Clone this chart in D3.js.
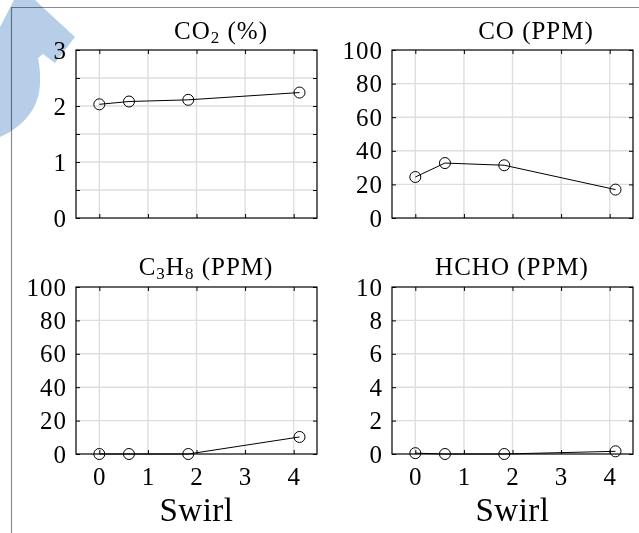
<!DOCTYPE html>
<html><head><meta charset="utf-8">
<script src="https://cdn.jsdelivr.net/npm/d3@7"></script>
<style>body{margin:0;background:#fff}svg{display:block}</style>
</head><body><svg id="c" width="639" height="533"></svg>
<script>
// ---- data ----
const swirl = [0, 0.61, 1.83, 4.12];
const co2 = [2.03, 2.08, 2.11, 2.24];
const co = [24.4, 32.7, 31.4, 16.9];
const c3h8 = [0, 0, 0, 10.2];
const hcho = [0.05, 0, 0, 0.16];
const xTicks = [0, 1, 2, 3, 4];
const co2Ticks = [0, 0.5, 1, 1.5, 2, 2.5, 3];
const co2Labels = [0, 1, 2, 3];
const ppmTicks = [0, 20, 40, 60, 80, 100];
const hchoTicks = [0, 2, 4, 6, 8, 10];
const xLabel = "Swirl";

// ---- layout ----
const svg = d3.select("#c");
svg.append("rect").attr("width", 639).attr("height", 533).attr("fill", "#fff");
const font = "'Liberation Serif','Times New Roman',serif";

const panels = [
  {x0: 76, y0: 50, w: 241, h: 168, vals: co2, ymax: 3, ticks: co2Ticks, labels: co2Labels,
   title: [["CO", 0], ["2", 1], [" (%)", 0]], tx: 221, ty: 39, showX: false},
  {x0: 392, y0: 50, w: 241, h: 168, vals: co, ymax: 100, ticks: ppmTicks, labels: ppmTicks,
   title: [["CO (PPM)", 0]], tx: 536, ty: 39, showX: false},
  {x0: 76, y0: 287, w: 241, h: 167, vals: c3h8, ymax: 100, ticks: ppmTicks, labels: ppmTicks,
   title: [["C", 0], ["3", 1], ["H", 0], ["8", 1], [" (PPM)", 0]], tx: 206, ty: 275, showX: true},
  {x0: 392, y0: 287, w: 241, h: 167, vals: hcho, ymax: 10, ticks: hchoTicks, labels: hchoTicks,
   title: [["HCHO (PPM)", 0]], tx: 512, ty: 275, showX: true}
];

// frame lines of the page
svg.append("line").attr("x1", 11).attr("x2", 639).attr("y1", 7.5).attr("y2", 7.5)
  .attr("stroke", "#8c8c8c").attr("stroke-width", 1.2);
svg.append("line").attr("x1", 11.5).attr("x2", 11.5).attr("y1", 7).attr("y2", 533)
  .attr("stroke", "#8c8c8c").attr("stroke-width", 1.2);

panels.forEach(p => {
  const x = d3.scaleLinear().domain([-0.48, 4.48]).range([p.x0, p.x0 + p.w]);
  const y = d3.scaleLinear().domain([0, p.ymax]).range([p.y0 + p.h, p.y0]);
  const g = svg.append("g");

  // grid
  g.selectAll(".vg").data(xTicks).join("line")
    .attr("x1", d => x(d)).attr("x2", d => x(d)).attr("y1", p.y0).attr("y2", p.y0 + p.h)
    .attr("stroke", "#dedede").attr("stroke-width", 1.4);
  g.selectAll(".hg").data(p.ticks.filter(t => t > 0 && t < p.ymax)).join("line")
    .attr("x1", p.x0).attr("x2", p.x0 + p.w).attr("y1", d => y(d)).attr("y2", d => y(d))
    .attr("stroke", "#dedede").attr("stroke-width", 1.4);

  // axes (inward ticks on all sides)
  const ax = (axis, tx, ty) => g.append("g").attr("transform", `translate(${tx},${ty})`).call(axis)
    .call(s => { s.select(".domain").remove(); s.selectAll("text").remove();
                 s.selectAll(".tick line").attr("stroke", "#000").attr("stroke-width", 1); });
  ax(d3.axisBottom(x).tickValues(xTicks).tickSize(-4), 0, p.y0 + p.h);
  ax(d3.axisTop(x).tickValues(xTicks).tickSize(-4), 0, p.y0);
  ax(d3.axisLeft(y).tickValues(p.ticks).tickSize(-4), p.x0, 0);
  ax(d3.axisRight(y).tickValues(p.ticks).tickSize(-4), p.x0 + p.w, 0);

  g.append("rect").attr("x", p.x0).attr("y", p.y0).attr("width", p.w).attr("height", p.h)
    .attr("fill", "none").attr("stroke", "#000").attr("stroke-width", 1.2);

  // y labels
  g.selectAll(".yl").data(p.labels).join("text")
    .attr("x", p.x0 - 9).attr("y", d => y(d)).attr("dy", "0.34em")
    .attr("text-anchor", "end").attr("font-family", font).attr("font-size", 25)
    .attr("letter-spacing", 1).attr("fill", "#000").text(d => d);

  if (p.showX) {
    g.selectAll(".xl").data(xTicks).join("text")
      .attr("x", d => x(d)).attr("y", p.y0 + p.h + 31)
      .attr("text-anchor", "middle").attr("font-family", font).attr("font-size", 25)
      .attr("fill", "#000").text(d => d);
    g.append("text").attr("x", p.x0 + p.w / 2).attr("y", 521)
      .attr("text-anchor", "middle").attr("font-family", font).attr("font-size", 33)
      .attr("letter-spacing", 0.5).attr("fill", "#000").text(xLabel);
  }

  // title
  const t = g.append("text").attr("x", p.tx).attr("y", p.ty).attr("text-anchor", "middle")
    .attr("font-family", font).attr("font-size", 25).attr("letter-spacing", 1).attr("fill", "#000");
  p.title.forEach(([s, sub], i) => {
    const ts = t.append("tspan").text(s);
    if (sub) ts.attr("font-size", 17).attr("dy", 4);
    else if (i > 0 && p.title[i - 1][1]) ts.attr("dy", -4);
  });

  // data
  const pts = swirl.map((s, i) => [s, p.vals[i]]);
  g.append("path").datum(pts)
    .attr("d", d3.line().x(d => x(d[0])).y(d => y(d[1])))
    .attr("fill", "none").attr("stroke", "#000").attr("stroke-width", 1);
  g.selectAll(".pt").data(pts).join("circle")
    .attr("cx", d => x(d[0])).attr("cy", d => y(d[1])).attr("r", 5.5)
    .attr("fill", "none").attr("stroke", "#000").attr("stroke-width", 1);
});

// watermark
svg.append("path")
  .attr("d", "M14,0 L35,0 L75,37 L55,63 L43,54 L38,58 C41,72 41,90 37,100 C33,112 25,122 10,132 L0,137 L0,27 Z")
  .attr("fill", "#b6cee8").style("mix-blend-mode", "multiply");
</script></body></html>
